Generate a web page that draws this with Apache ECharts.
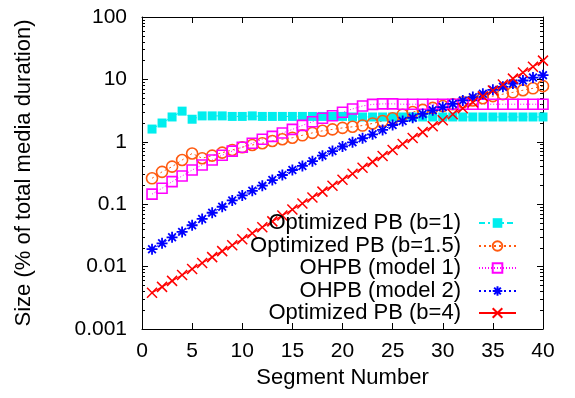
<!DOCTYPE html>
<html>
<head>
<meta charset="utf-8">
<script src="https://cdn.jsdelivr.net/npm/echarts@6/dist/echarts.min.js"></script>
<style>html,body{margin:0;padding:0;background:#fff}#c{width:575px;height:398px}</style>
</head>
<body>
<div id="c"></div>
<script>
const segments = [1,2,3,4,5,6,7,8,9,10,11,12,13,14,15,16,17,18,19,20,21,22,23,24,25,26,27,28,29,30,31,32,33,34,35,36,37,38,39,40];
const seriesNames = ['Optimized PB (b=1)', 'Optimized PB (b=1.5)', 'OHPB (model 1)', 'OHPB (model 2)', 'Optimized PB (b=4)'];
const optPB1 = [1.6,2.0,2.5,3.1,2.3,2.6,2.6,2.6,2.55,2.55,2.6,2.55,2.55,2.55,2.55,2.55,2.55,2.55,2.55,2.55,2.5,2.5,2.5,2.5,2.5,2.5,2.5,2.5,2.5,2.5,2.5,2.5,2.5,2.5,2.5,2.5,2.5,2.5,2.5,2.5];
const optPB15 = [0.26,0.33,0.40,0.51,0.65,0.545,0.60,0.67,0.74,0.82,0.89,0.95,1.03,1.1,1.16,1.27,1.39,1.5,1.58,1.67,1.74,1.82,1.97,2.15,2.38,2.72,3.0,3.25,3.5,3.75,4.0,4.3,4.6,5.0,5.4,5.8,6.2,6.7,7.2,7.8];
const ohpb1 = [0.145,0.18,0.23,0.283,0.353,0.425,0.51,0.61,0.71,0.82,0.95,1.1,1.22,1.38,1.58,1.83,2.1,2.38,2.62,2.97,3.36,3.75,3.98,4.05,4.05,4.0,4.0,4.0,4.0,4.0,4.0,4.0,4.0,4.0,4.0,4.0,4.0,4.0,4.0,4.0];
const ohpb2 = [0.019,0.0236,0.0295,0.036,0.046,0.058,0.073,0.091,0.115,0.138,0.164,0.198,0.244,0.294,0.353,0.41,0.49,0.60,0.71,0.84,0.98,1.14,1.32,1.55,1.86,2.15,2.43,2.8,3.2,3.6,4.05,4.6,5.2,5.9,6.8,7.6,8.6,9.6,10.7,11.7];
const optPB4 = [0.0038,0.00473,0.0059,0.00735,0.00915,0.0114,0.0142,0.0177,0.022,0.0274,0.0342,0.0426,0.053,0.0661,0.0823,0.1025,0.1277,0.159,0.198,0.247,0.307,0.383,0.477,0.594,0.74,0.922,1.148,1.43,1.78,2.22,2.77,3.45,4.29,5.35,6.66,8.3,10.3,12.9,16.0,20.0];
const xTickLabels = ['0','5','10','15','20','25','30','35','40'];
const yTickValues = [0.001, 0.01, 0.1, 1, 10, 100];
const yTickLabels = ['0.001','0.01','0.1','1','10','100'];

const minorY = [];
for (let e = -3; e <= 1; e++) for (let m = 2; m <= 9; m++) minorY.push(+(m * Math.pow(10, e)).toPrecision(3));

const FONT = 'Liberation Sans, Arial, sans-serif';
const pair = arr => segments.map((s, i) => [s, arr[i]]);

const X_PATH = 'path://M0 0L10 10M10 0L0 10';
const STAR_PATH = 'path://M5 0L5 10M0 5L10 5M1.5 1.5L8.5 8.5M8.5 1.5L1.5 8.5';
const SQ_PATH = 'path://M0 0L10 0L10 10L0 10Z';
const CIRC_PATH = 'path://M10 5A5 5 0 1 1 0 5A5 5 0 1 1 10 5Z';

const styles = [
  {color:'#00eeee', symbol:'rect', size:9, item:{color:'#00eeee'}, line:{type:[6,3,2,3], width:1}},
  {color:'#ff5a10', symbol:CIRC_PATH, size:11, item:{color:'rgba(0,0,0,0)', borderColor:'#ff5a10', borderWidth:1.6}, line:{type:[2,3], width:1}},
  {color:'#ff00ff', symbol:SQ_PATH, size:10, item:{color:'rgba(0,0,0,0)', borderColor:'#ff00ff', borderWidth:1.6}, line:{type:[1,2], width:1}},
  {color:'#0000ff', symbol:STAR_PATH, size:11, item:{color:'rgba(0,0,0,0)', borderColor:'#0000ff', borderWidth:1.8}, line:{type:[2,3], width:1}},
  {color:'#ff0000', symbol:X_PATH, size:10, item:{color:'rgba(0,0,0,0)', borderColor:'#ff0000', borderWidth:1.5}, line:{type:'solid', width:1.2}}
];
const datasets = [optPB1, optPB15, ohpb1, ohpb2, optPB4];

const series = datasets.map((d, i) => ({
  name: seriesNames[i],
  type: 'line',
  xAxisIndex: 0, yAxisIndex: 0,
  data: pair(d),
  symbol: styles[i].symbol,
  symbolSize: styles[i].size,
  showAllSymbol: true,
  itemStyle: styles[i].item,
  lineStyle: Object.assign({color: styles[i].color}, styles[i].line),
  emphasis: {disabled: true},
  silent: true
}));

const legendTops = [212, 235, 257, 280, 302];
const legends = seriesNames.map((n, i) => ({
  data: [n],
  orient: 'vertical',
  align: 'right',
  right: 58,
  top: legendTops[i],
  itemWidth: 37,
  itemHeight: 12,
  padding: 0,
  selectedMode: false,
  textStyle: {fontFamily: FONT, fontSize: 22, color: '#000', padding: [0, 13, 0, 0]}
}));

const axisLine = {show: true, lineStyle: {color: '#000', width: 1}};
const yBase = {type: 'log', logBase: 10, min: 0.001, max: 100, splitLine: {show: false}, gridIndex: 0};

const option = {
  animation: false,
  grid: {left: 142, right: 32, top: 17, bottom: 69, containLabel: false, outerBoundsMode: 'none'},
  legend: legends,
  xAxis: [
    {type: 'value', min: 0, max: 40, interval: 5, position: 'bottom',
     axisLine: axisLine, splitLine: {show: false},
     axisTick: {show: true, inside: true, length: 6, lineStyle: {color: '#000'}},
     axisLabel: {fontFamily: FONT, fontSize: 21, color: '#000', margin: 12, formatter: v => xTickLabels[Math.round(v / 5)]},
     name: 'Segment Number', nameLocation: 'middle', nameGap: 33,
     nameTextStyle: {fontFamily: FONT, fontSize: 22, color: '#000'}},
    {type: 'value', min: 0, max: 40, interval: 5, position: 'top',
     axisLine: axisLine, splitLine: {show: false},
     axisTick: {show: true, inside: true, length: 6, lineStyle: {color: '#000'}},
     axisLabel: {show: false}}
  ],
  yAxis: [
    Object.assign({}, yBase, {position: 'left', axisLine: axisLine,
      axisTick: {show: true, inside: true, length: 6, lineStyle: {color: '#000'}, customValues: yTickValues},
      axisLabel: {fontFamily: FONT, fontSize: 21, color: '#000', margin: 15, customValues: yTickValues,
        formatter: v => { const k = yTickValues.findIndex(t => Math.abs(t - v) / t < 1e-6); return k >= 0 ? yTickLabels[k] : ''; }},
      name: 'Size (% of total media duration)', nameLocation: 'middle', nameGap: 107,
      nameTextStyle: {fontFamily: FONT, fontSize: 22, color: '#000'}}),
    Object.assign({}, yBase, {position: 'left', axisLine: {show: false},
      axisTick: {show: true, inside: true, length: 3, lineStyle: {color: '#000'}, customValues: minorY},
      axisLabel: {show: false}}),
    Object.assign({}, yBase, {position: 'right', axisLine: axisLine,
      axisTick: {show: true, inside: true, length: 6, lineStyle: {color: '#000'}, customValues: yTickValues},
      axisLabel: {show: false}}),
    Object.assign({}, yBase, {position: 'right', axisLine: {show: false},
      axisTick: {show: true, inside: true, length: 3, lineStyle: {color: '#000'}, customValues: minorY},
      axisLabel: {show: false}})
  ],
  series: series
};

const chart = echarts.init(document.getElementById('c'), null, {renderer: 'canvas'});
chart.setOption(option);
</script>
</body>
</html>
